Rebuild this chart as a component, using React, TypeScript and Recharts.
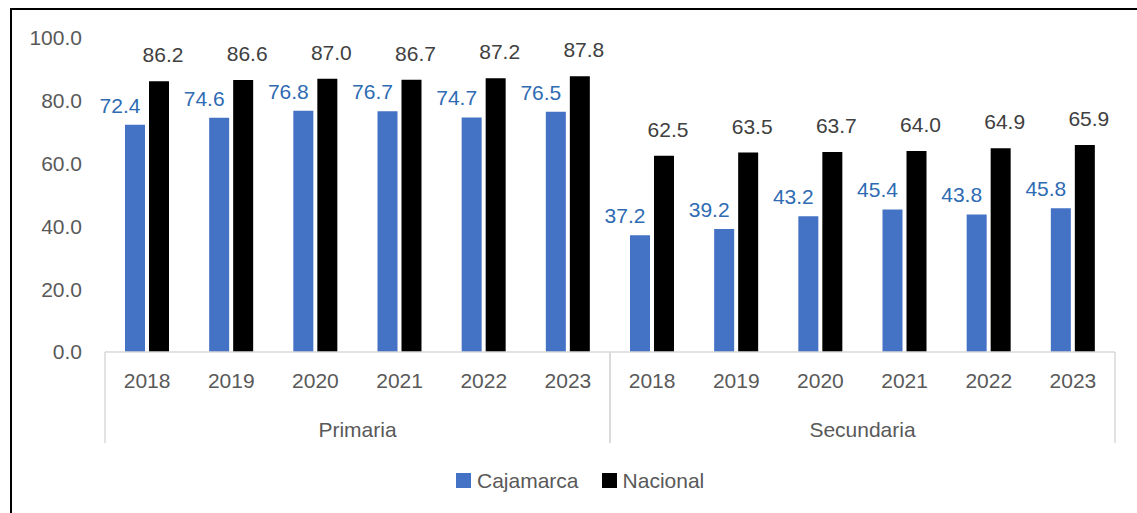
import React from 'react';
import { BarChart, Bar, XAxis, YAxis, LabelList, Legend } from 'recharts';

const years = ['2018', '2019', '2020', '2021', '2022', '2023'];
const groups = ['Primaria', 'Secundaria'];
const cajamarcaPrimaria = [72.4, 74.6, 76.8, 76.7, 74.7, 76.5];
const nacionalPrimaria = [86.2, 86.6, 87.0, 86.7, 87.2, 87.8];
const cajamarcaSecundaria = [37.2, 39.2, 43.2, 45.4, 43.8, 45.8];
const nacionalSecundaria = [62.5, 63.5, 63.7, 64.0, 64.9, 65.9];
const yTicks = [0, 20, 40, 60, 80, 100];
const seriesNames = ['Cajamarca', 'Nacional'];

const cajByGroup = [cajamarcaPrimaria, cajamarcaSecundaria];
const nacByGroup = [nacionalPrimaria, nacionalSecundaria];

const data = groups.flatMap((g, gi) =>
  years.map((y, yi) => ({
    key: `${g}-${y}`,
    year: y,
    group: g,
    cajamarca: cajByGroup[gi][yi],
    nacional: nacByGroup[gi][yi],
  }))
);

const FONT = '"Liberation Sans", Arial, sans-serif';
const TICK_COLOR = '#595959';
const BLUE = '#4472C4';
const BLUE_LABEL = '#2E6BB3';

const CajLabel = (props: any) => {
  const { x, y, width, value } = props;
  return (
    <text x={x + width / 2 - 15} y={y - 12} textAnchor="middle" fill={BLUE_LABEL} fontSize={21}>
      {Number(value).toFixed(1)}
    </text>
  );
};

const NacLabel = (props: any) => {
  const { x, y, width, value } = props;
  return (
    <text x={x + width / 2 + 4} y={y - 19} textAnchor="middle" fill="#404040" fontSize={21}>
      {Number(value).toFixed(1)}
    </text>
  );
};

const GroupTick = (props: any) => {
  const { x, y, payload } = props;
  const half = payload && payload.offset ? payload.offset : 252.5;
  return (
    <g>
      <line x1={x - half} x2={x - half} y1={y - 46} y2={y + 45} stroke="#D9D9D9" strokeWidth={1.5} />
      <line x1={x + half} x2={x + half} y1={y - 46} y2={y + 45} stroke="#D9D9D9" strokeWidth={1.5} />
      <text x={x} y={y + 39} textAnchor="middle" fill={TICK_COLOR} fontSize={21}>
        {payload.value}
      </text>
    </g>
  );
};

const LegendContent = () => {
  const colors = [BLUE, '#000000'];
  return (
    <div style={{ display: 'flex', alignItems: 'center', fontFamily: FONT, fontSize: 21, color: TICK_COLOR, lineHeight: 1 }}>
      {seriesNames.map((n, i) => (
        <div key={n} style={{ display: 'flex', alignItems: 'center', marginLeft: i === 0 ? 0 : 23 }}>
          <div style={{ width: 15, height: 15, background: colors[i], marginRight: 6 }} />
          <span>{n}</span>
        </div>
      ))}
    </div>
  );
};

export default function App() {
  return (
    <div style={{ position: 'absolute', left: 0, top: 0, width: 1137, height: 513, overflow: 'hidden', background: '#fff', fontFamily: FONT }}>
      <div style={{ position: 'absolute', left: 10, top: 8, width: 1200, height: 600, border: '2px solid #000' }} />
      <div style={{ position: 'absolute', left: 0, top: 0 }}>
        <BarChart
          width={1137}
          height={513}
          data={data}
          margin={{ top: 38, right: 22, left: 0, bottom: 70 }}
          barSize={20}
          barGap={4}
        >
          <YAxis
            domain={[0, 100]}
            ticks={yTicks}
            width={105}
            axisLine={false}
            tickLine={false}
            tickSize={0}
            tickMargin={23}
            tickFormatter={(v: number) => v.toFixed(1)}
            tick={{ fill: TICK_COLOR, fontSize: 21 }}
          />
          <XAxis
            dataKey="key"
            height={46}
            tickLine={false}
            tickSize={0}
            tickMargin={21}
            axisLine={{ stroke: '#D9D9D9', strokeWidth: 1.5 }}
            tickFormatter={(k: string) => k.split('-')[1]}
            tick={{ fill: TICK_COLOR, fontSize: 21 }}
            interval={0}
          />
          <XAxis
            xAxisId="group"
            dataKey="group"
            allowDuplicatedCategory={false}
            height={45}
            axisLine={false}
            tickLine={false}
            tickSize={0}
            tickMargin={0}
            tick={<GroupTick />}
            interval={0}
          />
          <Legend
            layout="horizontal"
            verticalAlign="middle"
            align="center"
            content={<LegendContent />}
            wrapperStyle={{ left: 456, top: 470, width: 320, height: 20 }}
          />
          <Bar dataKey="cajamarca" name={seriesNames[0]} fill={BLUE} isAnimationActive={false}>
            <LabelList dataKey="cajamarca" content={<CajLabel />} />
          </Bar>
          <Bar dataKey="nacional" name={seriesNames[1]} fill="#000000" isAnimationActive={false}>
            <LabelList dataKey="nacional" content={<NacLabel />} />
          </Bar>
        </BarChart>
      </div>
    </div>
  );
}
